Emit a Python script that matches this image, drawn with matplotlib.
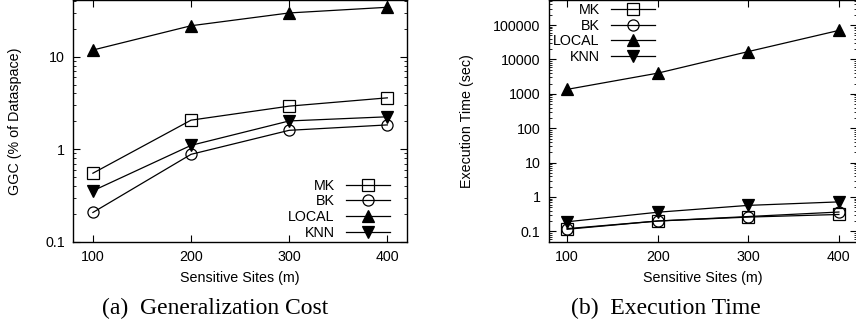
import matplotlib
matplotlib.use("Agg")
import matplotlib.pyplot as plt
from matplotlib.ticker import FixedLocator, LogLocator, NullFormatter

plt.rcParams['font.family'] = ['Liberation Sans', 'DejaVu Sans']

sites = [100, 200, 300, 400]
methods = ['MK', 'BK', 'LOCAL', 'KNN']

# generalization cost (% of dataspace)
ggc_mk = [0.55, 2.06, 2.92, 3.59]
ggc_bk = [0.207, 0.88, 1.60, 1.83]
ggc_local = [11.8, 21.6, 29.7, 34.2]
ggc_knn = [0.355, 1.10, 2.02, 2.24]

# execution time (sec)
time_mk = [0.115, 0.2, 0.26, 0.31]
time_bk = [0.12, 0.2, 0.27, 0.365]
time_local = [1350, 4000, 17000, 70000]
time_knn = [0.19, 0.36, 0.57, 0.72]

ggc_ticks = [0.1, 1, 10]
time_ticks = [0.1, 1, 10, 100, 1000, 10000, 100000]

styles = {
    'MK': dict(marker='s', mfc='none'),
    'BK': dict(marker='o', mfc='none'),
    'LOCAL': dict(marker='^', mfc='black'),
    'KNN': dict(marker='v', mfc='black'),
}
fs = 10.3

fig = plt.figure(figsize=(8.56, 3.24), dpi=100)
ax1 = fig.add_axes([0.0856, 0.254, 0.3898, 0.7445])
ax2 = fig.add_axes([0.6414, 0.254, 0.3598, 0.7445])


def draw(ax, series, ylim, ticks):
    for name, vals in zip(methods, series):
        ax.plot(sites, vals, color='black', lw=0.9, ms=8, mec='black',
                mew=0.9, label=name, **styles[name])
    ax.set_yscale('log')
    ax.set_xlim(80, 420)
    ax.set_ylim(*ylim)
    ax.xaxis.set_major_locator(FixedLocator(sites))
    ax.set_xticklabels([str(s) for s in sites])
    ax.yaxis.set_major_locator(FixedLocator(ticks))
    ax.set_yticklabels(['%g' % t for t in ticks])
    ax.yaxis.set_minor_locator(LogLocator(base=10, subs=range(2, 10)))
    ax.yaxis.set_minor_formatter(NullFormatter())
    ax.tick_params(which='both', direction='in', top=True, right=True,
                   labelsize=fs, pad=6)
    ax.tick_params(which='major', length=5, width=0.8)
    ax.tick_params(which='minor', length=2.5, width=0.6)
    for s in ax.spines.values():
        s.set_linewidth(1.0)
    ax.set_xlabel('Sensitive Sites (m)', fontsize=fs, labelpad=5)


draw(ax1, [ggc_mk, ggc_bk, ggc_local, ggc_knn], (0.1, 40.5), ggc_ticks)
ax1.set_ylabel('GGC (% of Dataspace)', fontsize=fs, labelpad=17)
ax1.legend(loc='lower right', bbox_to_anchor=(0.949, 0.008), frameon=False,
           markerfirst=False, fontsize=fs, handlelength=3.1,
           handletextpad=0.75, labelspacing=0.12, borderpad=0, borderaxespad=0)

draw(ax2, [time_mk, time_bk, time_local, time_knn], (0.05, 5.2e5), time_ticks)
ax2.set_ylabel('Execution Time (sec)', fontsize=fs, labelpad=14)
ax2.legend(loc='upper left', bbox_to_anchor=(0.014, 0.99), frameon=False,
           markerfirst=False, fontsize=fs, handlelength=3.1,
           handletextpad=0.75, labelspacing=0.12, borderpad=0, borderaxespad=0)

fig.text(0.251, 0.048, '(a)  Generalization Cost', ha='center', va='center',
         fontsize=17, family=['Liberation Serif', 'DejaVu Serif'])
fig.text(0.778, 0.048, '(b)  Execution Time', ha='center', va='center',
         fontsize=17, family=['Liberation Serif', 'DejaVu Serif'])

fig.savefig('out.png', dpi=100)
